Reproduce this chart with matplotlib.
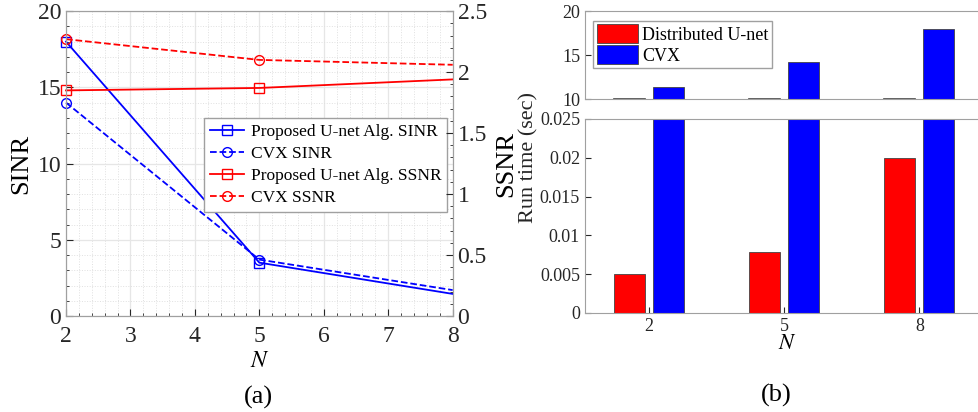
import numpy as np
import matplotlib
matplotlib.use("Agg")
import matplotlib.pyplot as plt
from matplotlib.ticker import MultipleLocator, FuncFormatter

plt.rcParams['font.family'] = ['Liberation Serif', 'DejaVu Serif']
plt.rcParams['mathtext.fontset'] = 'stix'

# (a) data
N = [2, 5, 8]
sinr_unet = [18.0, 3.5, 1.45]
sinr_cvx = [14.0, 3.7, 1.7]
ssnr_unet = [1.85, 1.87, 1.94]
ssnr_cvx = [2.27, 2.1, 2.06]

# (b) data
groups = ['2', '5', '8']
time_unet = [0.005, 0.0078, 0.020]
time_cvx = [11.4, 14.2, 17.9]

spine_c = '#262626'
fig = plt.figure(figsize=(9.79, 4.12), dpi=100)

# ---- panel (a)
ax = fig.add_axes([0.0674, 0.233, 0.395, 0.740])
ax2 = ax.twinx()
l1, = ax.plot(N, sinr_unet, '-s', color='b', lw=1.3, ms=7, mfc='none', markevery=[0, 1], clip_on=False)
l2, = ax.plot(N, sinr_cvx, '--o', color='b', lw=1.3, ms=7, mfc='none', markevery=[0, 1], clip_on=False)
l3, = ax2.plot(N, ssnr_unet, '-s', color='r', lw=1.3, ms=7, mfc='none', markevery=[0, 1], clip_on=False)
l4, = ax2.plot(N, ssnr_cvx, '--o', color='r', lw=1.3, ms=7, mfc='none', markevery=[0, 1], clip_on=False)
ax.set_xlim(2, 8)
ax.set_ylim(0, 20)
ax2.set_ylim(0, 2.5)
ax.xaxis.set_major_locator(MultipleLocator(1))
ax.xaxis.set_minor_locator(MultipleLocator(0.2))
ax.yaxis.set_major_locator(MultipleLocator(5))
ax.yaxis.set_minor_locator(MultipleLocator(1))
ax2.yaxis.set_major_locator(MultipleLocator(0.5))
ax2.yaxis.set_minor_locator(MultipleLocator(0.1))
ax2.yaxis.set_major_formatter(FuncFormatter(lambda v, p: ('%g' % v)))
ax.grid(True, which='major', color='#e6e6e6', lw=0.9)
ax.grid(True, which='minor', color='#e0e0e0', lw=0.7, ls=':')
ax.set_axisbelow(True)
for a in (ax, ax2):
    a.tick_params(which='both', direction='in', labelsize=17, colors=spine_c, top=False)
    a.tick_params(which='major', length=5)
    a.tick_params(which='minor', length=2.5)
    for s in a.spines.values():
        s.set_color('#a0a0a0')
ax.tick_params(axis='x', pad=7)
ax.set_ylabel('SINR', fontsize=19, labelpad=4)
ax2.set_ylabel('SSNR', fontsize=19, labelpad=6)
ax.set_xlabel('$N$', fontsize=17, labelpad=3)
leg = ax.legend([l1, l2, l3, l4],
                ['Proposed U-net Alg. SINR', 'CVX SINR',
                 'Proposed U-net Alg. SSNR', 'CVX SSNR'],
                loc='upper left', bbox_to_anchor=(0.358, 0.648), fontsize=12.5,
                frameon=True, fancybox=False, edgecolor='#a0a0a0', framealpha=1,
                borderpad=0.3, labelspacing=0.35, handlelength=2.0, handletextpad=0.4,
                borderaxespad=0)
leg.get_frame().set_linewidth(1.0)
ax2.set_zorder(ax.get_zorder() + 1)
fig.text(0.2635, 0.02, '(a)', fontsize=19, ha='center')

# ---- panel (b)
x = np.arange(len(groups))
w = 0.23
off = 0.145
axt = fig.add_axes([0.5975, 0.7597, 0.414, 0.2136])
axb = fig.add_axes([0.5975, 0.2403, 0.414, 0.471])
for a in (axt, axb):
    a.bar(x - off, time_unet, w, color='r', edgecolor='#444444', lw=0.6, label='Distributed U-net')
    a.bar(x + off, time_cvx, w, color='b', edgecolor='#444444', lw=0.6, label='CVX')
    a.set_xlim(-0.475, 2.525)
    a.tick_params(direction='in', labelsize=13, colors=spine_c, length=4)
    for s in a.spines.values():
        s.set_color('#a0a0a0')
axt.set_ylim(10, 20)
axt.set_yticks([10, 15, 20])
axt.set_xticks(x)
axt.set_xticklabels([])
axt.tick_params(axis='x', length=0)
for xi in x:
    axt.plot([xi - off - w / 2, xi - off + w / 2], [10, 10], color='#444444', lw=1.2, clip_on=False)
axb.set_ylim(0, 0.025)
axb.set_yticks([0, 0.005, 0.01, 0.015, 0.02, 0.025])
axb.set_yticklabels(['0', '0.005', '0.01', '0.015', '0.02', '0.025'])
axb.set_xticks(x)
axb.set_xticklabels(groups)
axb.set_xlabel('$N$', fontsize=16, labelpad=0)
fig.text(0.540, 0.617, 'Run time (sec)', fontsize=16, rotation=90, ha='center', va='center', color='#262626')
leg2 = axt.legend(loc='upper left', bbox_to_anchor=(0.02, 0.89), fontsize=13,
                  frameon=True, fancybox=False, edgecolor='#a0a0a0', framealpha=1,
                  borderpad=0.2, labelspacing=0.1, handlelength=2.3, handleheight=1.2,
                  handletextpad=0.2, borderaxespad=0)
fig.text(0.793, 0.025, '(b)', fontsize=19, ha='center')

fig.savefig('out.png', dpi=100)
